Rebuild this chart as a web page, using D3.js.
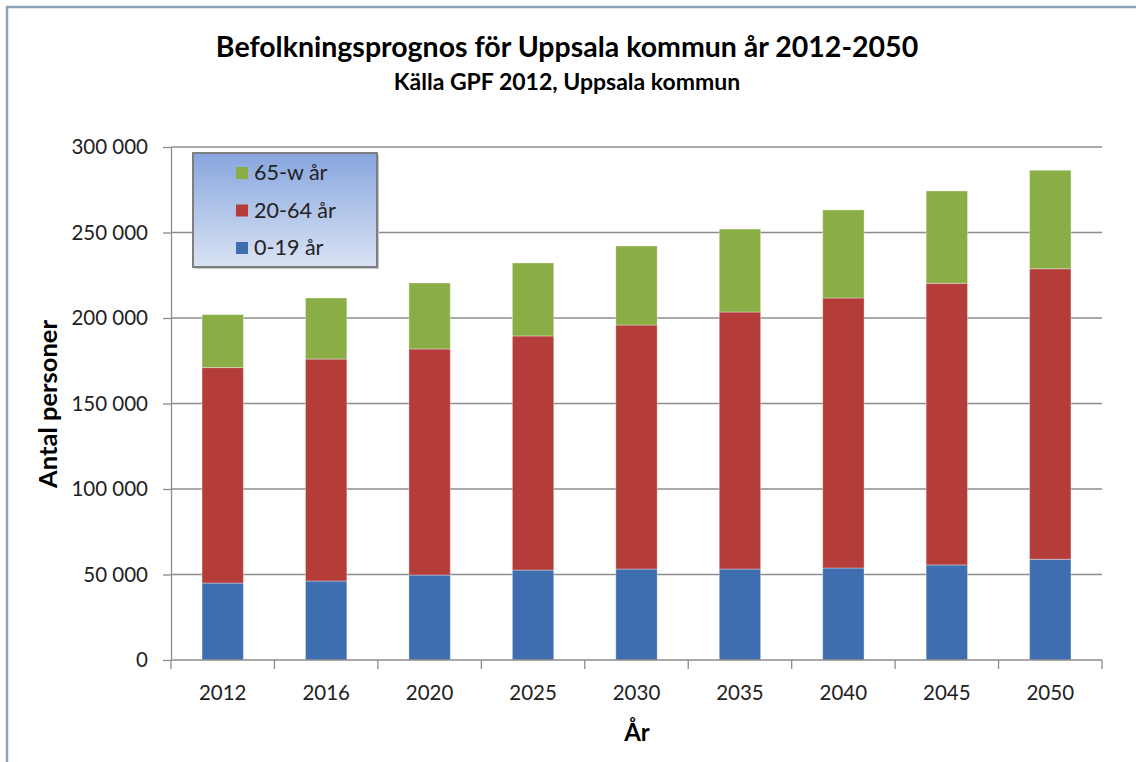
<!DOCTYPE html>
<html>
<head>
  <meta charset="utf-8">
  <script src="https://d3js.org/d3.v7.min.js"></script>
  <style>
    body { margin: 0; background: #fff; }
    svg { display: block; font-family: Lato, "Open Sans", sans-serif; }
  </style>
</head>
<body>
<script>
// years on the x axis
var years = ["2012", "2016", "2020", "2025", "2030", "2035", "2040", "2045", "2050"];

// segment sizes per age group (persons)
var age0_19 = [45000, 46200, 49700, 52600, 53200, 53200, 53800, 55600, 58900];
var age20_64 = [126000, 129800, 132200, 136900, 142700, 150300, 157900, 164700, 169900];
var age65w = [31000, 35700, 38600, 42700, 46200, 48500, 51500, 54000, 57600];

var seriesNames = ["0-19 år", "20-64 år", "65-w år"];
var yTicks = [0, 50000, 100000, 150000, 200000, 250000, 300000];

var W = 1136, H = 762;
var margin = {top: 147, right: 34, bottom: 102, left: 171};
var width = W - margin.left - margin.right,
    height = H - margin.top - margin.bottom;

var svg = d3.select("body").append("svg")
  .attr("width", W)
  .attr("height", H);

// outer chart border
svg.append("rect")
  .attr("x", 7).attr("y", 7)
  .attr("width", W + 10).attr("height", H + 10)
  .attr("fill", "#fff")
  .attr("stroke", "#8ea3bb")
  .attr("stroke-width", 2.5);

var colors = {"0-19 år": "#3e6eb0", "20-64 år": "#b43d3a", "65-w år": "#8aad46"};

var rows = years.map(function (y, i) {
  return {year: y, "0-19 år": age0_19[i], "20-64 år": age20_64[i], "65-w år": age65w[i]};
});
var stacked = d3.stack().keys(seriesNames)(rows);

var x = d3.scaleBand().domain(years).range([0, width]).paddingInner(0.6).paddingOuter(0.3);
var xTick = d3.scaleBand().domain(years).range([0, width]);
var y = d3.scaleLinear().domain([0, 300000]).range([height, 0]);

var fmt = d3.formatLocale({decimal: ",", thousands: " ", grouping: [3], currency: ["", " kr"]}).format(",d");

var g = svg.append("g").attr("transform", "translate(" + margin.left + "," + margin.top + ")");

// horizontal gridlines
g.selectAll(".grid").data(yTicks.slice(1)).enter().append("line")
  .attr("x1", 0).attr("x2", width)
  .attr("y1", function (d) { return y(d); })
  .attr("y2", function (d) { return y(d); })
  .attr("stroke", "#8c8c8c")
  .attr("stroke-width", 1.3);

// bars
g.selectAll(".layer").data(stacked).enter().append("g")
  .attr("fill", function (d) { return colors[d.key]; })
  .selectAll("rect").data(function (d) { return d; }).enter().append("rect")
    .attr("x", function (d) { return x(d.data.year); })
    .attr("width", x.bandwidth())
    .attr("y", function (d) { return y(d[1]); })
    .attr("height", function (d) { return y(d[0]) - y(d[1]); })
    .attr("stroke", "rgba(255,255,255,0.35)")
    .attr("stroke-width", 1);

// y axis
var yAxis = g.append("g")
  .call(d3.axisLeft(y).tickValues(yTicks).tickFormat(fmt).tickSize(8).tickSizeOuter(0));
yAxis.select(".domain").attr("stroke", "#8c8c8c").attr("stroke-width", 1.3);
yAxis.selectAll(".tick line").attr("stroke", "#8c8c8c").attr("stroke-width", 1.3);
yAxis.selectAll(".tick text")
  .attr("x", -23)
  .attr("font-size", "20.5px")
  .attr("fill", "#222")
  .attr("font-family", "Lato, sans-serif");

// x axis with ticks between categories
var xAxis = g.append("g").attr("transform", "translate(0," + height + ")");
xAxis.append("line").attr("x1", 0).attr("x2", width)
  .attr("stroke", "#8c8c8c").attr("stroke-width", 1.3);
xAxis.selectAll(".xt").data(years.concat(["end"])).enter().append("line")
  .attr("x1", function (d, i) { return i * xTick.bandwidth(); })
  .attr("x2", function (d, i) { return i * xTick.bandwidth(); })
  .attr("y1", 0).attr("y2", 9)
  .attr("stroke", "#8c8c8c").attr("stroke-width", 1.3);
xAxis.selectAll(".xl").data(years).enter().append("text")
  .attr("x", function (d) { return xTick(d) + xTick.bandwidth() / 2; })
  .attr("y", 40)
  .attr("text-anchor", "middle")
  .attr("font-size", "20.5px")
  .attr("fill", "#222")
  .text(function (d) { return d; });

// titles
svg.append("text")
  .attr("x", 567).attr("y", 57)
  .attr("text-anchor", "middle")
  .attr("font-size", "28.5px").attr("font-weight", "bold")
  .text("Befolkningsprognos för Uppsala kommun år 2012-2050");
svg.append("text")
  .attr("x", 567).attr("y", 90)
  .attr("text-anchor", "middle")
  .attr("font-size", "23px").attr("font-weight", "bold")
  .text("Källa GPF 2012, Uppsala kommun");

// axis titles
svg.append("text")
  .attr("x", 637).attr("y", 741)
  .attr("text-anchor", "middle")
  .attr("font-size", "24px").attr("font-weight", "bold")
  .text("År");
svg.append("text")
  .attr("transform", "translate(57,404) rotate(-90)")
  .attr("text-anchor", "middle")
  .attr("font-size", "25.5px").attr("font-weight", "bold")
  .text("Antal personer");

// legend
var grad = svg.append("defs").append("linearGradient")
  .attr("id", "lg").attr("x1", 0).attr("y1", 0).attr("x2", 0).attr("y2", 1);
grad.append("stop").attr("offset", "0%").attr("stop-color", "#87a6de");
grad.append("stop").attr("offset", "100%").attr("stop-color", "#dae3f4");

var legend = svg.append("g").attr("transform", "translate(193,153)");
legend.append("rect")
  .attr("x", 2).attr("y", 2).attr("width", 184).attr("height", 114)
  .attr("fill", "#c8c8c8");
legend.append("rect")
  .attr("width", 184).attr("height", 114)
  .attr("fill", "url(#lg)")
  .attr("stroke", "#7f7f7f").attr("stroke-width", 2);

var legendItems = seriesNames.slice().reverse();
legend.selectAll(".li").data(legendItems).enter().append("g")
  .attr("transform", function (d, i) { return "translate(43," + (14 + i * 37.5) + ")"; })
  .each(function (d) {
    var it = d3.select(this);
    it.append("rect").attr("width", 12).attr("height", 12).attr("fill", colors[d]);
    it.append("text").attr("x", 18).attr("y", 13)
      .attr("font-size", "21.5px").attr("fill", "#222")
      .text(d);
  });
</script>
</body>
</html>
